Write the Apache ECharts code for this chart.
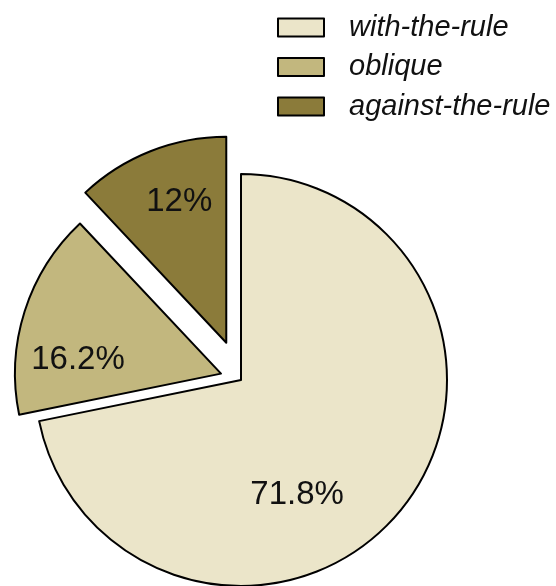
<!DOCTYPE html>
<html>
<head>
<meta charset="utf-8">
<script src="https://cdn.jsdelivr.net/npm/echarts@6/dist/echarts.min.js"></script>
<style>html,body{margin:0;padding:0;background:#fff}#c{width:556px;height:586px}</style>
</head>
<body>
<div id="c"></div>
<script>
const categories = ['with-the-rule', 'oblique', 'against-the-rule'];
const values = [71.8, 16.2, 12];
const colors = ['#EBE5C9', '#C2B77E', '#8B7B3A'];
// label nudges (padding) so the text sits where the original put it
const labelPads = [[96, 52, 0, 0], [36, 84, 0, 0], [0, 16, 84, 0]];

const FONT = '"Liberation Sans", Arial, sans-serif';
const hidden = { color: 'rgba(0,0,0,0)', borderWidth: 0 };

function makeData(visibleIdx, selectedIdx) {
  return categories.map((name, i) => {
    const vis = visibleIdx.indexOf(i) >= 0;
    return {
      name: vis ? name : '_' + i,
      value: values[i],
      selected: i === selectedIdx,
      itemStyle: vis ? { color: colors[i], borderColor: '#000', borderWidth: 2 } : hidden,
      label: vis ? { show: true, padding: labelPads[i] } : { show: false }
    };
  });
}

const common = {
  type: 'pie',
  center: [241, 380],
  radius: [0, 206],
  startAngle: 90,
  clockwise: true,
  selectedMode: 'multiple',
  silent: true,
  animation: false,
  emphasis: { disabled: true },
  select: { disabled: false },
  label: {
    show: true,
    position: 'inside',
    formatter: p => '{v|' + p.value + '%}',
    fontFamily: FONT,
    fontSize: 33,
    color: '#111',
    rich: { v: { fontFamily: FONT, fontSize: 33, color: '#111' } }
  },
  labelLine: { show: false }
};

const chart = echarts.init(document.getElementById('c'), null, { renderer: 'canvas' });
chart.setOption({
  backgroundColor: '#fff',
  animation: false,
  legend: {
    orient: 'vertical',
    left: 277,
    top: 13,
    padding: 0,
    itemWidth: 46,
    itemHeight: 18,
    itemGap: 10.5,
    icon: 'rect',
    selectedMode: false,
    textStyle: { fontFamily: FONT, fontSize: 29, fontStyle: 'italic', color: '#111', padding: [0, 0, 0, 20] },
    data: categories.map((name, i) => ({
      name: name,
      itemStyle: { color: colors[i], borderColor: '#000', borderWidth: 2 }
    }))
  },
  series: [
    Object.assign({}, common, { name: 'main', selectedOffset: 21, data: makeData([0, 1], 1) }),
    Object.assign({}, common, { name: 'against', selectedOffset: 40, data: makeData([2], 2) })
  ]
});
</script>
</body>
</html>
